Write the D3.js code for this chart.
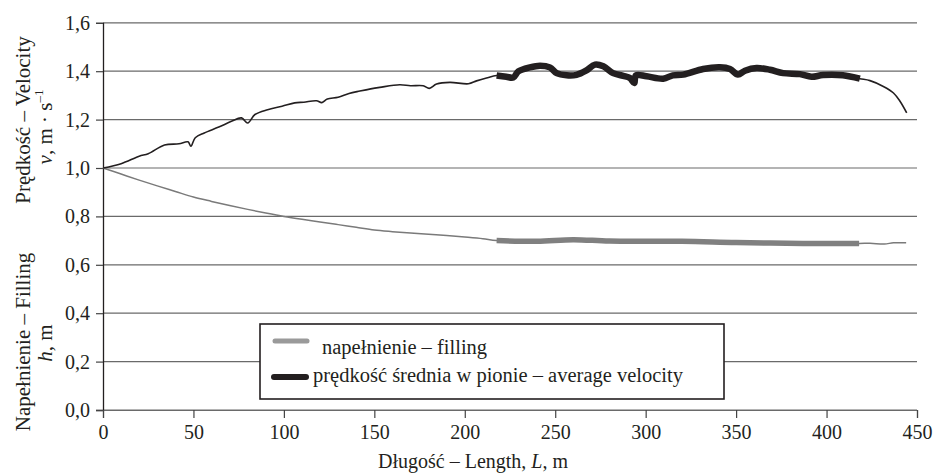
<!DOCTYPE html>
<html>
<head>
<meta charset="utf-8">
<script src="https://cdn.jsdelivr.net/npm/d3@7"></script>
<style>
  html, body { margin: 0; padding: 0; background: #fff; }
  svg { display: block; }
  text { font-family: "Liberation Serif", "Times New Roman", serif; fill: #231f20; }
</style>
</head>
<body>
<svg id="chart" width="935" height="476"></svg>
<script>
// Distance along the channel, m, and mean vertical velocity, m/s
const velocityLength = [0, 10, 20, 25, 34, 42, 47, 48.6, 51, 56, 64, 71, 76.6, 80, 84, 91, 99, 106,
  111, 118, 121, 124, 130, 136, 142, 148, 153, 164, 170, 177, 180.4, 184.4, 191.8, 202, 206.5, 212,
  217.6, 223, 226.8, 229.6, 236, 241.6, 247, 250.8, 256.3, 261.8, 267, 272, 276.6, 282, 287.6, 291.3,
  293.7, 294.6, 300.5, 309.7, 315, 320.8, 331.8, 341, 346.6, 351, 354.9, 361.3, 368.7, 376, 385.3,
  391.7, 398, 409, 418.4, 424, 431.4, 437, 440.6, 444.3];
const velocity = [1.000, 1.018, 1.049, 1.059, 1.095, 1.100, 1.108, 1.090, 1.125, 1.145, 1.169, 1.193, 1.207, 1.186, 1.221, 1.241, 1.255, 1.269,
  1.272, 1.278, 1.270, 1.285, 1.292, 1.308, 1.318, 1.327, 1.333, 1.344, 1.340, 1.340, 1.329, 1.347, 1.354, 1.348, 1.360, 1.372,
  1.382, 1.377, 1.374, 1.399, 1.416, 1.423, 1.416, 1.392, 1.383, 1.385, 1.402, 1.427, 1.420, 1.392, 1.381, 1.372,
  1.351, 1.383, 1.379, 1.369, 1.383, 1.386, 1.409, 1.416, 1.409, 1.386, 1.402, 1.413, 1.406, 1.392, 1.388,
  1.377, 1.384, 1.383, 1.369, 1.361, 1.337, 1.310, 1.276, 1.228];

// Distance along the channel, m, and flow depth (filling), m
const fillingLength = [0, 10, 20, 30, 40, 50, 60, 70, 80, 90, 100, 110, 120, 130, 140, 150, 160, 170, 180, 190, 200, 210,
  217.6, 240, 260, 280, 320, 350, 387, 418, 424, 432, 437, 444];
const filling = [1.000, 0.975, 0.950, 0.926, 0.903, 0.880, 0.862, 0.845, 0.829, 0.814, 0.800, 0.788, 0.777, 0.766, 0.755, 0.744, 0.737, 0.731, 0.726, 0.721, 0.715, 0.708,
  0.700, 0.697, 0.704, 0.698, 0.697, 0.692, 0.688, 0.688, 0.689, 0.686, 0.691, 0.691];

// Reach over which the averaged (bold) curves are shown
const averagedReach = [217.6, 418.4];

const xTicks = [0, 50, 100, 150, 200, 250, 300, 350, 400, 450];
const yTicks = [0, 0.2, 0.4, 0.6, 0.8, 1.0, 1.2, 1.4, 1.6];
const legendLabels = ["napełnienie – filling", "prędkość średnia w pionie – average velocity"];

const svg = d3.select("#chart");
const x = d3.scaleLinear().domain([0, 450]).range([103, 917]);
const y = d3.scaleLinear().domain([0, 1.6]).range([410, 22.8]);
const fmt = v => d3.format(".1f")(v).replace(".", ",");

// horizontal grid lines
svg.append("g").selectAll("line").data(yTicks).join("line")
  .attr("x1", x(0)).attr("x2", x(450))
  .attr("y1", d => y(d)).attr("y2", d => y(d))
  .attr("stroke", "#6a6a6a").attr("stroke-width", 1.2);

// y axis
const yAxis = svg.append("g").attr("transform", `translate(${x(0)},0)`)
  .call(d3.axisLeft(y).tickValues(yTicks).tickSize(7).tickPadding(6).tickFormat(fmt));
yAxis.select(".domain").attr("stroke", "#231f20").attr("stroke-width", 1.3);
yAxis.selectAll(".tick line").attr("stroke", "#444").attr("stroke-width", 1.2);
yAxis.selectAll(".tick text").attr("font-size", 20).attr("font-family", "Liberation Serif").attr("fill", "#231f20");

// x axis
const xAxis = svg.append("g").attr("transform", `translate(0,${y(0)})`)
  .call(d3.axisBottom(x).tickValues(xTicks).tickSize(8).tickPadding(7).tickFormat(d3.format("d")));
xAxis.select(".domain").attr("stroke", "#6a6a6a").attr("stroke-width", 1.2);
xAxis.selectAll(".tick line").attr("stroke", "#444").attr("stroke-width", 1.2);
xAxis.selectAll(".tick text").attr("font-size", 20).attr("font-family", "Liberation Serif").attr("fill", "#231f20");

const line = d3.line().x(d => x(d[0])).y(d => y(d[1])).curve(d3.curveCatmullRom.alpha(0.5));
const inReach = d => d[0] >= averagedReach[0] && d[0] <= averagedReach[1];

const fillPts = d3.zip(fillingLength, filling);
const velPts = d3.zip(velocityLength, velocity);

// filling: thin full profile, bold over averaged reach
svg.append("path").datum(fillPts).attr("d", line)
  .attr("fill", "none").attr("stroke", "#7a7a7a").attr("stroke-width", 1.5);
svg.append("path").datum(fillPts.filter(inReach)).attr("d", line)
  .attr("fill", "none").attr("stroke", "#808080").attr("stroke-width", 5.5).attr("stroke-linejoin", "round");

// velocity: thin full profile, bold over averaged reach
svg.append("path").datum(velPts).attr("d", line)
  .attr("fill", "none").attr("stroke", "#231f20").attr("stroke-width", 1.6);
svg.append("path").datum(velPts.filter(inReach)).attr("d", line)
  .attr("fill", "none").attr("stroke", "#231f20").attr("stroke-width", 6.5).attr("stroke-linejoin", "round");

// legend
const lg = svg.append("g");
lg.append("rect").attr("x", 260).attr("y", 324).attr("width", 464).attr("height", 75)
  .attr("fill", "#fff").attr("stroke", "#231f20").attr("stroke-width", 1.6);
lg.append("line").attr("x1", 275).attr("x2", 307).attr("y1", 341).attr("y2", 341)
  .attr("stroke", "#9a9a9a").attr("stroke-width", 5).attr("stroke-linecap", "round");
lg.append("line").attr("x1", 274).attr("x2", 306).attr("y1", 377).attr("y2", 377)
  .attr("stroke", "#231f20").attr("stroke-width", 6).attr("stroke-linecap", "round");
lg.append("text").attr("x", 322).attr("y", 354).attr("font-size", 20.5).text(legendLabels[0]);
lg.append("text").attr("x", 313).attr("y", 382).attr("font-size", 20.5).text(legendLabels[1]);

// axis titles
svg.append("text").attr("transform", "translate(30,120) rotate(-90)")
  .attr("text-anchor", "middle").attr("font-size", 21).text("Prędkość – Velocity");
const t2 = svg.append("text").attr("transform", "translate(52,127) rotate(-90)")
  .attr("text-anchor", "middle").attr("font-size", 21);
t2.append("tspan").attr("font-style", "italic").text("v");
t2.append("tspan").text(", m · s");
t2.append("tspan").attr("font-size", 13).attr("dy", -9).text("–1");

svg.append("text").attr("transform", "translate(30,342) rotate(-90)")
  .attr("text-anchor", "middle").attr("font-size", 21).text("Napełnienie – Filling");
const t4 = svg.append("text").attr("transform", "translate(52,343) rotate(-90)")
  .attr("text-anchor", "middle").attr("font-size", 21);
t4.append("tspan").attr("font-style", "italic").text("h");
t4.append("tspan").text(", m");

const tx = svg.append("text").attr("x", 473).attr("y", 468).attr("text-anchor", "middle").attr("font-size", 20);
tx.append("tspan").text("Długość – Length, ");
tx.append("tspan").attr("font-style", "italic").text("L");
tx.append("tspan").text(", m");
</script>
</body>
</html>
